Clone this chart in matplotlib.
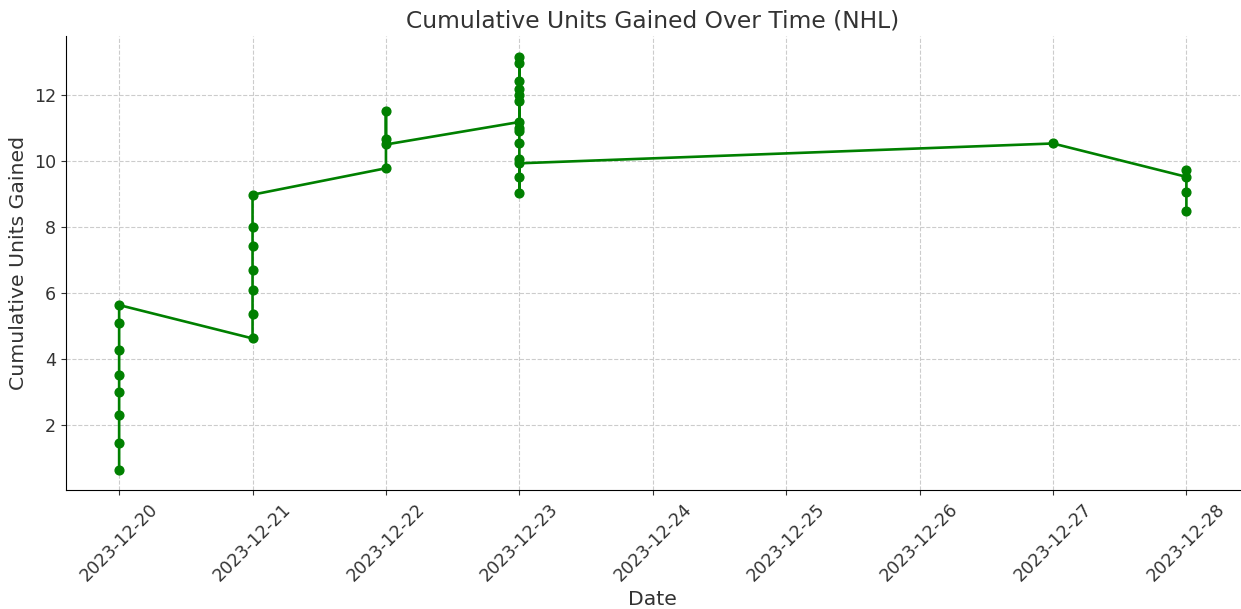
import matplotlib.pyplot as plt
import matplotlib.dates as mdates
import pandas as pd

# one row per bet, in the order they were placed
dates = (["2023-12-20"] * 8 + ["2023-12-21"] * 7 + ["2023-12-22"] * 4
         + ["2023-12-23"] * 14 + ["2023-12-27"] + ["2023-12-28"] * 4)
cumulative_units = [
    0.65, 1.45, 2.29, 2.99, 3.52, 4.26, 5.10, 5.63,
    4.62, 5.37, 6.09, 6.70, 7.42, 8.00, 8.97,
    9.77, 11.51, 10.65, 10.49,
    11.17, 11.82, 12.00, 12.17, 12.40, 12.97, 13.15, 10.99, 10.91, 10.52, 10.04, 9.52, 9.01, 9.92,
    10.52,
    9.51, 9.73, 9.05, 8.49,
]

df = pd.DataFrame({"date": pd.to_datetime(dates), "units": cumulative_units})

text_color = '#333333'
plt.rcParams['text.color'] = text_color
plt.rcParams['axes.labelcolor'] = text_color
plt.rcParams['xtick.color'] = text_color
plt.rcParams['ytick.color'] = text_color

fig, ax = plt.subplots(figsize=(12.41, 6.09), dpi=100)
fig.subplots_adjust(left=0.053, right=0.999, top=0.941, bottom=0.195)

ax.plot(df["date"], df["units"], marker='o', color='green', linewidth=1.9, markersize=6.3)

ax.set_title('Cumulative Units Gained Over Time (NHL)', fontsize=16.8)
ax.set_xlabel('Date', fontsize=14.7)
ax.set_ylabel('Cumulative Units Gained', fontsize=14.7)

ax.xaxis.set_major_locator(mdates.DayLocator())
ax.xaxis.set_major_formatter(mdates.DateFormatter('%Y-%m-%d'))
ax.tick_params(axis='both', labelsize=12.6)
plt.setp(ax.get_xticklabels(), rotation=45)

ax.grid(True, linestyle='--', color='#cccccc', linewidth=0.8)
ax.spines['top'].set_visible(False)
ax.spines['right'].set_visible(False)

plt.savefig('out.png', dpi=100)
plt.close()
